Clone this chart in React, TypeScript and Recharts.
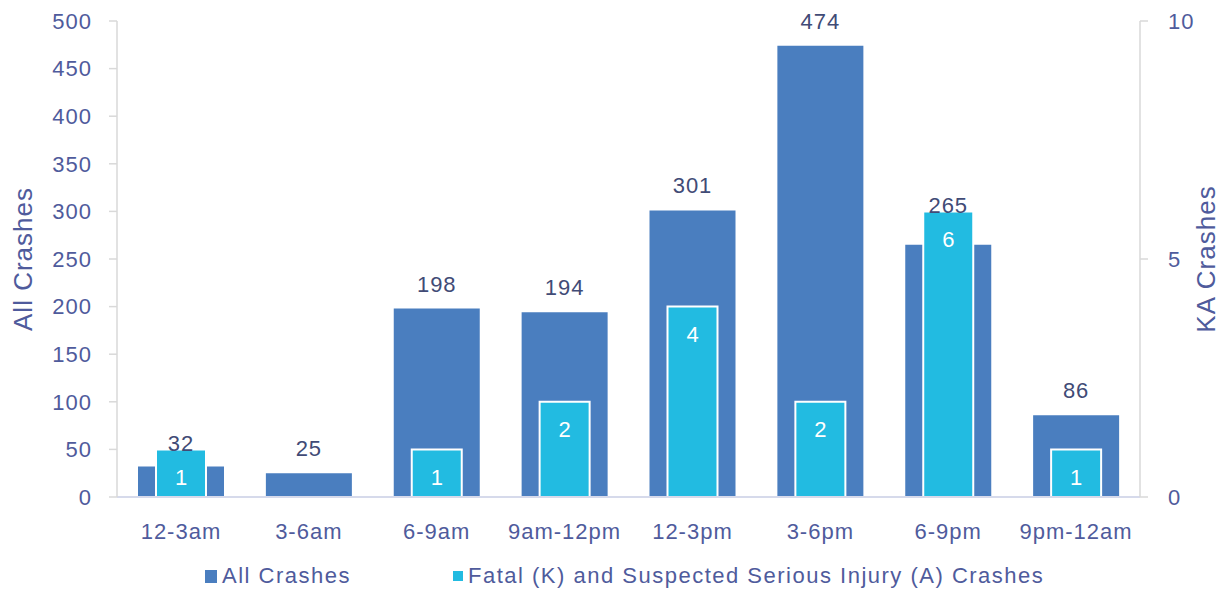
import { BarChart, Bar, XAxis, YAxis, Legend, LabelList } from "recharts";

/* ── Data ─────────────────────────────────────────────────────── */
const timeBins = ["12-3am", "3-6am", "6-9am", "9am-12pm", "12-3pm", "3-6pm", "6-9pm", "9pm-12am"];
const allCrashes = [32, 25, 198, 194, 301, 474, 265, 86];
const kaCrashes: (number | null)[] = [1, null, 1, 2, 4, 2, 6, 1];
const leftTicks = [0, 50, 100, 150, 200, 250, 300, 350, 400, 450, 500];
const rightTicks = [0, 5, 10];

const ALL_NAME = "All Crashes";
const KA_NAME = "Fatal (K) and Suspected Serious Injury (A) Crashes";
// left axis max / right axis max
const AXIS_RATIO = 500 / 10;

const data = timeBins.map((name, i) => ({
  name,
  all: allCrashes[i],
  ka: kaCrashes[i],
}));

/* ── Styling ─────────────────────────────────────────────────── */
const FONT = '"Liberation Sans", Arial, sans-serif';
const TEXT = "#4F5B9C";
const LABEL = "#414B76";
const BLUE = "#4A7EBF";
const CYAN = "#22BBE1";
const AXIS = "#D9D9D9";

const tickStyle = { fill: TEXT, fontSize: 22, fontFamily: FONT, letterSpacing: 1 };

/* ── Legend ──────────────────────────────────────────────────── */
// eslint-disable-next-line @typescript-eslint/no-explicit-any
function renderLegend(props: any) {
  const payload = (props.payload ?? []).filter(
    (p: any) => p.value === ALL_NAME || p.value === KA_NAME
  );
  return (
    <div
      style={{
        display: "flex",
        alignItems: "center",
        paddingLeft: 205,
        paddingTop: 17,
        fontSize: 22,
        lineHeight: "24px",
        letterSpacing: 1.5,
        color: TEXT,
        fontFamily: FONT,
      }}
    >
      {payload.map((p: any, i: number) => (
        <div
          key={p.value}
          style={{ display: "flex", alignItems: "center", marginRight: i === 0 ? 102 : 0 }}
        >
          <span
            style={{
              display: "inline-block",
              width: i === 0 ? 12 : 10,
              height: i === 0 ? 13 : 10,
              background: p.color,
              marginRight: 5,
            }}
          />
          <span>{p.value}</span>
        </div>
      ))}
    </div>
  );
}

/* ── Rotated axis titles ─────────────────────────────────────── */
function axisTitle(text: string, dx: number) {
  // eslint-disable-next-line @typescript-eslint/no-explicit-any
  return (props: any) => {
    const vb = props.viewBox;
    const x = vb.x + dx;
    const y = vb.y + vb.height / 2;
    return (
      <text
        x={x}
        y={y}
        transform={`rotate(-90 ${x} ${y})`}
        textAnchor="middle"
        dominantBaseline="central"
        fill={TEXT}
        fontSize={26}
        fontFamily={FONT}
        letterSpacing={1}
      >
        {text}
      </text>
    );
  };
}

/* ── All Crashes value label, lifted when the KA bar is taller ── */
// eslint-disable-next-line @typescript-eslint/no-explicit-any
function AllLabel(props: any) {
  const { x, y, width, height, value, index } = props;
  const ka = kaCrashes[index] ?? 0;
  let baseline = y - 17;
  if (value > 0 && height > 0) {
    const kaTop = y + height - (height * ka * AXIS_RATIO) / value;
    if (kaTop < baseline) baseline = kaTop + 2;
  }
  return (
    <text
      x={x + width / 2}
      y={baseline}
      textAnchor="middle"
      fill={LABEL}
      fontSize={22}
      fontFamily={FONT}
      letterSpacing={1}
    >
      {value}
    </text>
  );
}

export default function App() {
  return (
    <div style={{ position: "absolute", left: 0, top: 0, background: "#fff" }}>
      <BarChart
        width={1223}
        height={590}
        data={data}
        margin={{ top: 21, right: 0, left: 0, bottom: 0 }}
        style={{ fontFamily: FONT }}
      >
        <XAxis
          xAxisId="a"
          dataKey="name"
          height={50}
          tick={tickStyle}
          tickLine={false}
          tickSize={0}
          tickMargin={26}
          axisLine={{ stroke: "#D6DAEB", strokeWidth: 2 }}
          interval={0}
        />
        <XAxis xAxisId="b" dataKey="name" hide />
        <XAxis xAxisId="c" dataKey="name" hide />
        <YAxis
          yAxisId="left"
          width={117}
          domain={[0, 500]}
          ticks={leftTicks}
          interval={0}
          tick={tickStyle}
          tickSize={8}
          tickMargin={17}
          tickLine={{ stroke: AXIS, strokeWidth: 1.5 }}
          axisLine={{ stroke: AXIS, strokeWidth: 1.5 }}
          label={{ content: axisTitle("All Crashes", 23) }}
        />
        <YAxis
          yAxisId="right"
          orientation="right"
          width={83}
          domain={[0, 10]}
          ticks={rightTicks}
          interval={0}
          tick={tickStyle}
          tickSize={8}
          tickMargin={20}
          tickLine={{ stroke: AXIS, strokeWidth: 1.5 }}
          axisLine={{ stroke: AXIS, strokeWidth: 1.5 }}
          label={{ content: axisTitle("KA Crashes", 66) }}
        />
        <Legend
          verticalAlign="bottom"
          height={43}
          wrapperStyle={{ left: 0, width: 1223, height: 43 }}
          content={renderLegend}
        />
        <Bar
          xAxisId="a"
          yAxisId="left"
          dataKey="all"
          name={ALL_NAME}
          fill={BLUE}
          barSize={86}
          isAnimationActive={false}
        />
        <Bar
          xAxisId="b"
          yAxisId="right"
          dataKey="ka"
          name={KA_NAME}
          fill={CYAN}
          stroke="#FFFFFF"
          strokeWidth={2}
          barSize={50}
          isAnimationActive={false}
        >
          <LabelList
            dataKey="ka"
            position="insideTop"
            offset={20}
            fill="#FFFFFF"
            fontSize={22}
            fontFamily={FONT}
          />
        </Bar>
        {/* label layer for All Crashes so values sit above the KA bars */}
        <Bar
          xAxisId="c"
          yAxisId="left"
          dataKey="all"
          name="labels"
          fill="transparent"
          barSize={86}
          legendType="none"
          isAnimationActive={false}
        >
          <LabelList dataKey="all" content={AllLabel} />
        </Bar>
      </BarChart>
    </div>
  );
}
